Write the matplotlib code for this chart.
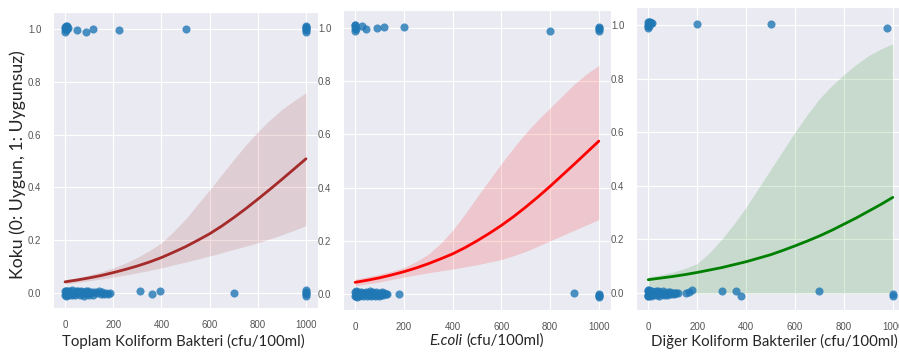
import matplotlib
matplotlib.use("Agg")
import matplotlib.pyplot as plt
import seaborn as sns

# ---------------- data ----------------
grid_x = [0, 50, 100, 150, 200, 250, 300, 350, 400, 450, 500,
          550, 600, 650, 700, 750, 800, 850, 900, 950, 1000]

# Panel 1: Toplam Koliform Bakteri
p1_line = [0.042, 0.049, 0.057, 0.066, 0.077, 0.089, 0.102, 0.117, 0.134, 0.154, 0.175,
           0.199, 0.224, 0.253, 0.285, 0.319, 0.355, 0.392, 0.430, 0.469, 0.508]
p1_upper = [0.050, 0.058, 0.068, 0.080, 0.095, 0.113, 0.135, 0.160, 0.190, 0.232, 0.280,
            0.335, 0.390, 0.448, 0.505, 0.560, 0.610, 0.655, 0.695, 0.728, 0.758]
p1_lower = [0.034, 0.040, 0.046, 0.053, 0.060, 0.068, 0.076, 0.085, 0.095, 0.106, 0.117,
            0.128, 0.140, 0.152, 0.165, 0.177, 0.190, 0.205, 0.220, 0.237, 0.255]
p1_x_zero = [0, 1, 2, 3, 4, 6, 8, 10, 12, 15, 18, 20, 24, 28, 30, 34, 38, 40, 45, 50,
             55, 60, 64, 68, 72, 76, 80, 85, 90, 95, 100, 105, 110, 118, 125, 132, 140,
             148, 155, 162, 170, 178, 185,
             310, 362, 395, 703, 1000, 1000, 1000, 1000, 1000]
p1_y_zero = [-0.008, 0.006, -0.003, 0.009, -0.01, 0.002, 0.007, -0.006, 0.004, -0.009,
             0.008, -0.002, 0.005, -0.007, 0.01, -0.004, 0.003, -0.009, 0.007, -0.001,
             0.006, -0.008, 0.002, 0.009, -0.005, 0.004, -0.01, 0.006, -0.003, 0.008,
             -0.007, 0.001, 0.005, -0.006, 0.003, -0.002, 0.009, -0.004, 0.002, -0.005,
             0.001, -0.003, -0.001,
             0.007, -0.005, 0.007, 0.0, -0.01, -0.005, 0.0, 0.005, 0.01]
p1_x_one = [0, 0, 1, 2, 3, 5, 8, 10, 14, 50, 88, 116, 222, 500,
            1000, 1000, 1000, 1000, 1000, 1000]
p1_y_one = [0.99, 1.008, 1.0, 1.012, 0.994, 1.005, 0.998, 1.01, 1.003, 0.995, 0.99, 1.0,
            0.995, 1.0, 0.99, 0.996, 1.0, 1.004, 1.008, 1.012]

# Panel 2: E.coli
p2_line = [0.044, 0.052, 0.061, 0.072, 0.084, 0.098, 0.114, 0.132, 0.151, 0.174, 0.200,
           0.228, 0.258, 0.291, 0.327, 0.365, 0.405, 0.447, 0.489, 0.532, 0.575]
p2_upper = [0.056, 0.065, 0.075, 0.086, 0.100, 0.122, 0.150, 0.190, 0.240, 0.300, 0.365,
            0.428, 0.490, 0.550, 0.605, 0.655, 0.700, 0.745, 0.790, 0.828, 0.860]
p2_lower = [0.031, 0.038, 0.045, 0.055, 0.064, 0.072, 0.080, 0.087, 0.094, 0.102, 0.110,
            0.120, 0.130, 0.144, 0.160, 0.180, 0.200, 0.220, 0.240, 0.260, 0.280]
p2_x_zero = [0, 1, 2, 3, 4, 5, 7, 9, 11, 13, 16, 19, 22, 25, 28, 32, 36, 40, 44, 48,
             52, 56, 60, 64, 68, 72, 76, 80, 84, 88, 92, 96, 100, 105, 110, 115, 120,
             126, 132,
             180, 900, 1000, 1000, 1000, 1000]
p2_y_zero = [-0.009, 0.007, -0.002, 0.01, -0.006, 0.003, -0.01, 0.006, -0.004, 0.008,
             -0.007, 0.002, 0.009, -0.003, 0.005, -0.008, 0.004, -0.001, 0.008, -0.009,
             0.003, -0.005, 0.01, -0.007, 0.006, -0.002, 0.004, -0.009, 0.007, -0.004,
             0.002, -0.006, 0.005, -0.003, 0.006, -0.002, 0.004, -0.001, 0.002,
             0.0, 0.003, -0.012, -0.007, -0.003, 0.0]
p2_x_one = [0, 0, 0, 1, 2, 30, 45, 88, 118, 200, 800, 1000, 1000, 1000, 1000]
p2_y_one = [0.99, 1.0, 1.01, 1.013, 0.995, 1.008, 0.998, 1.0, 1.003, 1.003, 0.99,
            0.99, 0.995, 1.0, 1.005]

# Panel 3: Diğer Koliform Bakteriler
p3_line = [0.050, 0.056, 0.062, 0.069, 0.077, 0.086, 0.095, 0.106, 0.117, 0.130, 0.143,
           0.159, 0.176, 0.194, 0.213, 0.234, 0.257, 0.280, 0.305, 0.330, 0.357]
p3_upper = [0.060, 0.068, 0.078, 0.092, 0.110, 0.150, 0.200, 0.257, 0.320, 0.390, 0.460,
            0.530, 0.600, 0.665, 0.725, 0.773, 0.815, 0.852, 0.885, 0.910, 0.930]
p3_lower = [0.030, 0.015, 0.005, 0.001, 0.0, 0.0, 0.0, 0.0, 0.0, 0.0, 0.0,
            0.0, 0.0, 0.0, 0.0, 0.0, 0.0, 0.0, 0.0, 0.0, 0.0]
p3_x_zero = [0, 0, 1, 2, 0, 1, 2, 3, 4, 5, 6, 8, 10, 12, 14, 17, 20, 23, 26, 30, 34, 38,
             42, 46, 50, 55, 60, 65, 70, 75, 80, 85, 90, 95, 100, 105, 110, 115, 120,
             155, 165, 180, 300, 360, 378, 700, 1000, 1000]
p3_y_zero = [-0.012, 0.012, -0.01, 0.011, -0.008, 0.006, -0.003, 0.009, -0.007, 0.002,
             0.008, -0.005, 0.004, -0.009, 0.007, -0.002, 0.005, -0.008, 0.003, 0.009,
             -0.006, 0.001, 0.006, -0.009, 0.004, -0.003, 0.007, -0.006, 0.002, -0.008,
             0.005, -0.002, 0.003, -0.005, 0.001, -0.003, 0.002, -0.001, 0.001,
             0.0, 0.005, 0.01, 0.008, 0.008, -0.012, 0.008, -0.005, -0.009]
p3_x_one = [0, 0, 0, 1, 2, 3, 5, 8, 12, 15, 200, 500, 975]
p3_y_one = [0.99, 1.0, 1.01, 0.995, 1.012, 1.005, 0.998, 1.01, 1.006, 1.008, 1.003,
            1.003, 0.99]

x_ticks = [0, 200, 400, 600, 800, 1000]
y_ticks = [0.0, 0.2, 0.4, 0.6, 0.8, 1.0]

xlabel_1 = "Toplam Koliform Bakteri (cfu/100ml)"
xlabel_2_italic = "E.coli"
xlabel_2_rest = "(cfu/100ml)"
xlabel_3 = "Diğer Koliform Bakteriler (cfu/100ml)"
ylabel = "Koku (0: Uygun, 1: Uygunsuz)"

# ---------------- style ----------------
sns.set_style("darkgrid")
plt.rcParams["font.family"] = ["Liberation Sans", "DejaVu Sans"]

W, H = 899, 354
fig = plt.figure(figsize=(W / 100, H / 100), dpi=100)

def px_axes(left, right, top, bottom):
    return fig.add_axes([left / W, 1 - bottom / H, (right - left) / W, (bottom - top) / H])

panels = [
    dict(box=(53, 318, 12, 308), ylim=(-0.057, 1.064), color="#a52a2a",
         line=p1_line, up=p1_upper, lo=p1_lower,
         xz=p1_x_zero, yz=p1_y_zero, xo=p1_x_one, yo=p1_y_one),
    dict(box=(343, 611, 10, 310), ylim=(-0.06, 1.068), color="#ff0000",
         line=p2_line, up=p2_upper, lo=p2_lower,
         xz=p2_x_zero, yz=p2_y_zero, xo=p2_x_one, yo=p2_y_one),
    dict(box=(636, 905, 7, 310), ylim=(-0.063, 1.067), color="#008000",
         line=p3_line, up=p3_upper, lo=p3_lower,
         xz=p3_x_zero, yz=p3_y_zero, xo=p3_x_one, yo=p3_y_one),
]

for p in panels:
    ax = px_axes(*p["box"])
    ax.scatter(p["xz"] + p["xo"], p["yz"] + p["yo"], s=34, color="#1f77b4",
               alpha=0.8, linewidths=0, zorder=3)
    ax.fill_between(grid_x, p["lo"], p["up"], color=p["color"], alpha=0.15,
                    linewidth=0, zorder=2)
    ax.plot(grid_x, p["line"], color=p["color"], lw=2, zorder=4)
    ax.set_xlim(-50, 1050)
    ax.set_ylim(*p["ylim"])
    ax.set_xticks(x_ticks)
    ax.set_yticks(y_ticks)
    ax.set_yticklabels([f"{v:.1f}" for v in y_ticks])
    ax.tick_params(labelsize=7, colors="#555555", pad=5)

label_font = ["Lato", "DejaVu Sans"]
xl_size = 10.8
fig.text(183 / W, 1 - 341 / H, xlabel_1, ha="center", va="center",
         fontsize=xl_size, family=label_font)
fig.text(462 / W, 1 - 341 / H, xlabel_2_italic, ha="right", va="center",
         fontsize=xl_size, family=label_font, style="italic")
fig.text(466 / W, 1 - 341 / H, xlabel_2_rest, ha="left", va="center",
         fontsize=xl_size, family=label_font)
fig.text(774 / W, 1 - 341 / H, xlabel_3, ha="center", va="center",
         fontsize=xl_size, family=label_font)
fig.text(18 / W, 1 - 165 / H, ylabel, ha="center", va="center", rotation=90,
         fontsize=12.7, family=label_font)

fig.savefig("out.png", dpi=100)
